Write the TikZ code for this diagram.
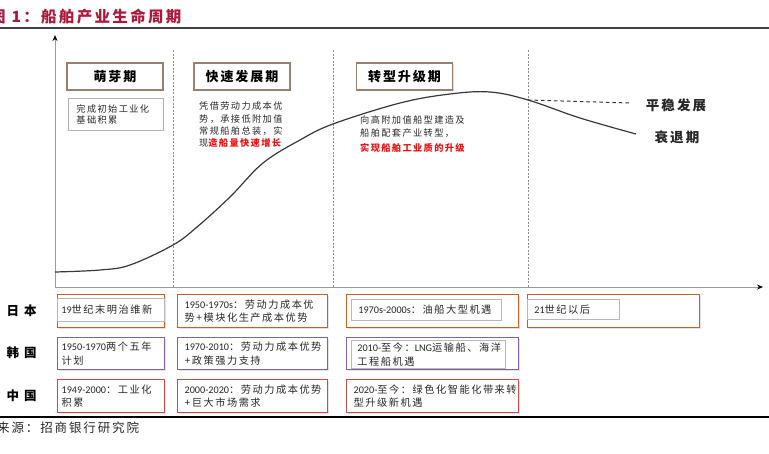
\documentclass[tikz,border=0pt]{standalone}
\usepackage{fontspec}
\usetikzlibrary{arrows.meta,shadows}
\newfontfamily\cjk{Noto Sans CJK SC}[LetterSpace=15]
\newfontfamily\cjkw{Noto Sans CJK SC}[LetterSpace=40]
\newfontfamily\latf{Carlito}
\newcommand\lt[1]{\mbox{\latf #1}}
\definecolor{titlec}{RGB}{172,24,58}
\definecolor{phasec}{RGB}{150,128,112}
\definecolor{jpc}{RGB}{196,98,38}
\definecolor{krc}{RGB}{128,100,162}
\definecolor{cnc}{RGB}{192,80,77}
\definecolor{axc}{RGB}{155,155,155}
\definecolor{redt}{RGB}{232,20,20}
\definecolor{txtc}{RGB}{40,40,40}
\newcommand\boxtxt{\cjk\fontsize{10.2}{13.5}\selectfont}
\newcommand\smalltxt{\cjk\fontsize{9.2}{12.3}\selectfont}
\begin{document}
\begin{tikzpicture}[x=1pt,y=-1pt,
  phase/.style={draw=phasec, line width=1.5pt, fill=white,
    drop shadow={shadow xshift=1.2pt, shadow yshift=-1.2pt, fill=black!25},
    minimum width=96pt, minimum height=27pt, inner sep=0pt,
    font=\cjk\bfseries\fontsize{13}{15}\selectfont},
  cbox/.style={draw=#1, line width=1.3pt, fill=white,
    drop shadow={shadow xshift=1pt, shadow yshift=-1pt, fill=black!22},
    anchor=north west, inner xsep=7pt, inner ysep=0pt, align=left,
    font=\boxtxt, text=txtc},
  ibox/.style={draw=black!28, line width=0.8pt, fill=white,
    anchor=north west, inner ysep=0pt, align=left, font=\boxtxt, text=txtc},
  ctry/.style={font=\cjkw\bfseries\fontsize{12.5}{14}\selectfont, anchor=west},
  vdash/.style={draw=black!45, line width=0.6pt, dash pattern=on 2pt off 1.5pt},
  axis/.style={draw=axc, line width=1pt},
  curve/.style={draw=black!78, line width=1.2pt},
  note/.style={anchor=north west, align=left, inner sep=0pt, font=\smalltxt, text=txtc},
  endlab/.style={font=\cjk\bfseries\fontsize{13.5}{15}\selectfont, text=black!85}
]
\useasboundingbox (0,0) rectangle (769,453);

% title
\node[anchor=base west, inner sep=0pt, text=titlec,
  font=\cjk\bfseries\fontsize{15.5}{17}\selectfont] (title) at (-10,22) {图 1：船舶产业生命周期};
\draw[line width=1.5pt, black!75] (0,28) -- (769,28);

% axes
\coordinate (O) at (55,287);
\coordinate (ytip) at (55,35);
\coordinate (xtip) at (763,287);
\draw[axis, -{Stealth[length=6pt, width=5pt, color=black]}] (O) -- (ytip);
\draw[axis, -{Stealth[length=6pt, width=5pt, color=black]}] (O) -- (xtip);

% phase separators
\draw[vdash] (173,50) -- (173,287);
\draw[vdash] (333,50) -- (333,287);
\draw[vdash] (528,50) -- (528,287);

% curve
\draw[curve] plot[smooth, tension=0.6] coordinates {(55,272) (100,270) (130,265) (173,245) (197,227) (230,197) (263,163) (300,140) (333,124) (400,103) (450,94) (490,92) (528,100) (580,118) (636,134)};
\coordinate (split) at (528,100);
\coordinate (flatend) at (630,103);
\draw[black!80, line width=1pt, dash pattern=on 3.5pt off 3pt] (split) -- (flatend);

% phase headers
\node[phase] (p1) at (115,76.5) {萌芽期};
\node[phase] (p2) at (242,76.5) {快速发展期};
\node[phase] (p3) at (404.5,76.5) {转型升级期};

% phase notes
\node[draw=black!30, line width=0.9pt, fill=white,
  drop shadow={shadow xshift=1pt, shadow yshift=-1pt, fill=black!15},
  anchor=north west, minimum width=95pt, minimum height=32pt, inner xsep=8pt, inner ysep=0pt,
  text width=79pt, align=left, font=\cjk\fontsize{9.2}{11.5}\selectfont, text=txtc] (n1) at (68,98) {完成初始工业化\\基础积累};
\node[note] (n2) at (199,102) {凭借劳动力成本优\\势，承接低附加值\\常规船舶总装，实\\现{\color{redt}\bfseries 造船量快速增长}};
\node[note] (n3) at (360,116) {向高附加值船型建造及\\船舶配套产业转型，\\[3pt]{\color{redt}\bfseries 实现船舶工业质的升级}};

\node[endlab] (stable) at (676,105) {平稳发展};
\node[endlab] (decline) at (677,137) {衰退期};

% country labels
\node[ctry] (jp) at (3,311) {日本};
\node[ctry] (kr) at (3,353) {韩国};
\node[ctry] (cn) at (3,396) {中国};

% Japan row
\node[cbox=jpc, minimum width=107pt, minimum height=33pt] (j1) at (57,294) {};
\node[ibox, minimum width=107pt, minimum height=23pt, inner xsep=4pt, text width=99pt] (j1t) at (57,298) {\lt{19}世纪末明治维新};
\node[cbox=jpc, minimum height=33pt, text width=136pt] (j2) at (177,294) {\lt{1950-1970s}：劳动力成本优\\势+模块化生产成本优势};
\node[cbox=jpc, minimum width=172pt, minimum height=33pt] (j3) at (346,294) {};
\node[ibox, minimum width=150pt, minimum height=21pt, inner xsep=7pt, text width=136pt] (j3t) at (351,299) {\lt{1970s-2000s}：油船大型机遇};
\node[cbox=jpc, minimum width=172pt, minimum height=33pt] (j4) at (527,294) {};
\node[ibox, minimum width=92pt, minimum height=20pt, inner xsep=7pt, text width=78pt] (j4t) at (527,299) {\lt{21}世纪以后};

% Korea row
\node[cbox=krc, minimum height=32pt, inner xsep=4pt, text width=99pt] (k1) at (57,337) {\lt{1950-1970}两个五年\\计划};
\node[cbox=krc, minimum height=32pt, text width=136pt] (k2) at (177,337) {\lt{1970-2010}：劳动力成本优势\\+政策强力支持};
\node[cbox=krc, minimum width=172pt, minimum height=32pt] (k3) at (346,337) {};
\node[ibox, minimum width=154pt, minimum height=28pt, inner xsep=6pt, text width=142pt] (k3t) at (351,340) {\lt{2010-}至今：\lt{LNG}运输船、海洋\\工程船机遇};

% China row
\node[cbox=cnc, minimum height=33pt, inner xsep=4pt, text width=99pt] (c1) at (57,379) {\lt{1949-2000}：工业化\\积累};
\node[cbox=cnc, minimum height=33pt, text width=136pt] (c2) at (177,379) {\lt{2000-2020}：劳动力成本优势\\+巨大市场需求};
\node[cbox=cnc, minimum height=33pt, text width=158pt] (c3) at (346,379) {\lt{2020-}至今：绿色化智能化带来转\\型升级新机遇};

% bottom rule and source
\draw[line width=1.5pt, black] (0,417) -- (769,417);
\node[anchor=base west, inner sep=0pt, text=txtc,
  font=\cjk\fontsize{12.5}{14}\selectfont] (src) at (-3,432.5) {来源：招商银行研究院};
\end{tikzpicture}
\end{document}
